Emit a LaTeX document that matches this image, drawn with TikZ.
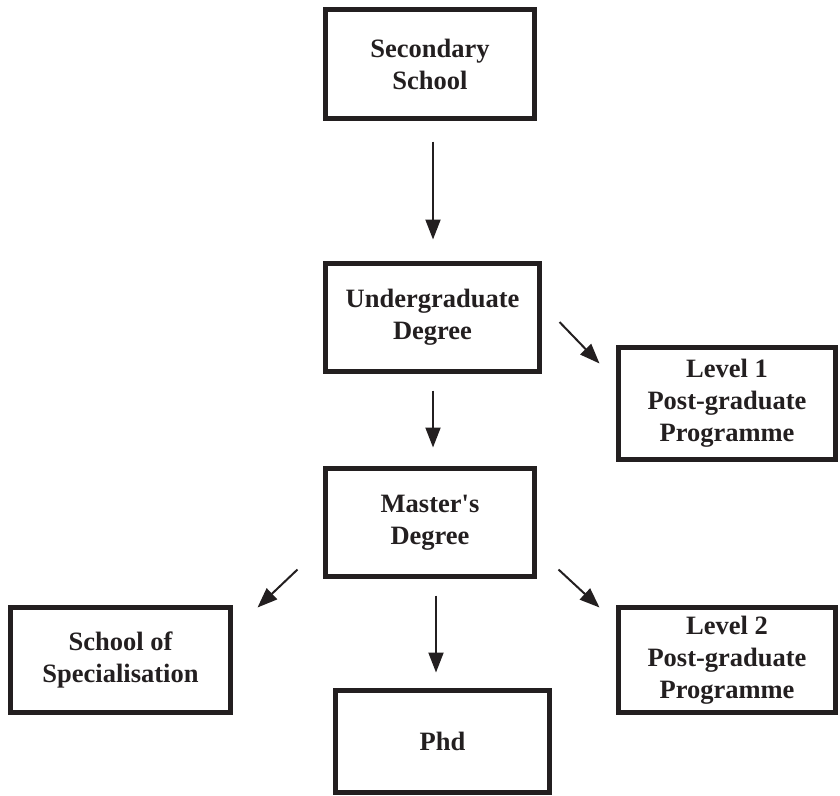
\documentclass[tikz,border=0pt]{standalone}
\usepackage{fontspec}
\setmainfont{Liberation Serif}
\usetikzlibrary{arrows.meta,calc}
\definecolor{ink}{RGB}{35,31,32}
\begin{document}
\begin{tikzpicture}[x=1pt,y=-1pt,
  stage/.style={draw=ink,text=ink,line width=5pt,inner sep=0pt,align=center,
    font=\fontsize{26.5}{32}\selectfont\bfseries},
  flow/.style={draw=ink,line width=2pt,-{Triangle[length=20pt,width=15pt]}}]
  \useasboundingbox (0,0) rectangle (840,795);
  % boxes
  \node [stage,minimum width=209pt,minimum height=109pt] (sec) at (430,64) {Secondary\\School};
  \node [stage,minimum width=214pt,minimum height=108pt] (ug) at (432.5,317.5) {Undergraduate\\Degree};
  \node [stage,minimum width=217pt,minimum height=112pt] (lone) at (727,403.5) {Level 1\\Post-graduate\\Programme};
  \node [stage,minimum width=209pt,minimum height=108pt] (ms) at (430,522.5) {Master\textquotesingle s\\Degree};
  \node [stage,minimum width=220pt,minimum height=105pt] (spec) at (120.5,660) {School of\\Specialisation};
  \node [stage,minimum width=217pt,minimum height=105pt] (ltwo) at (727,660) {Level 2\\Post-graduate\\Programme};
  \node [stage,minimum width=214pt,minimum height=102pt] (phd) at (442.5,741.5) {Phd};
  % arrows
  \draw [flow] ($(sec.south)+(3,20.5)$) -- ($(ug.north)+(0.5,-21.5)$);
  \draw [flow] ($(ug.south)+(0.5,16.5)$) -- ($(ms.north)+(3,-18.5)$);
  \draw [flow] ($(ug.east)+(17.5,4.5)$) -- ($(lone.north west)+(-16.5,18.5)$);
  \draw [flow] ($(ms.south)+(6,16.5)$) -- ($(phd.north)+(-6.5,-15.5)$);
  \draw [flow] ($(ms.south west)+(-25.5,-9.5)$) -- ($(spec.north east)+(24.5,2.5)$);
  \draw [flow] ($(ms.south east)+(21.5,-9.5)$) -- ($(ltwo.north west)+(-16.5,2.5)$);
\end{tikzpicture}
\end{document}
